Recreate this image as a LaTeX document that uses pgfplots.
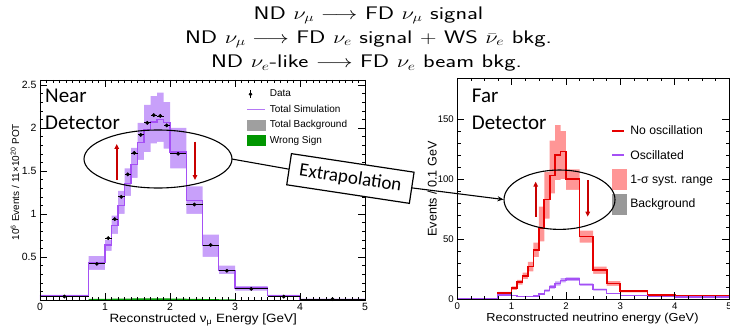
\documentclass[border=0pt]{standalone}
\usepackage{fontspec}
\setmainfont{Liberation Sans}
\newfontfamily\carlito{Carlito}
\usepackage{graphicx}
\usepackage{pgfplots}
\usepackage{pgfplotstable}
\pgfplotsset{compat=1.18}
\usetikzlibrary{arrows.meta}

\definecolor{simpurple}{RGB}{165,80,245}
\definecolor{bandpurple}{RGB}{200,160,250}
\definecolor{legpurple}{RGB}{180,120,245}
\definecolor{rootred}{RGB}{230,0,0}
\definecolor{bandred}{RGB}{255,150,150}
\definecolor{arrowred}{RGB}{200,0,0}
\definecolor{wsgreen}{RGB}{0,150,0}

% Near detector histogram: bin left edges (last row = right edge)
\pgfplotstableread{
x    mc    lo     hi     ws
0    0.05  0.04   0.06   0
0.75 0.44  0.35   0.51   0.012
1.0  0.64  0.57   0.70   0.014
1.1  0.87  0.77   0.98   0.015
1.2  1.10  1.00   1.27   0.016
1.3  1.35  1.21   1.53   0.017
1.4  1.58  1.42   1.77   0.018
1.5  1.83  1.63   2.06   0.019
1.6  1.98  1.72   2.27   0.020
1.7  2.07  1.82   2.37   0.020
1.8  2.10  1.84   2.41   0.020
1.9  2.06  1.76   2.30   0.019
2.0  1.72  1.53   2.00   0.017
2.25 1.16  1.00   1.32   0.014
2.5  0.63  0.50   0.76   0.010
2.75 0.34  0.30   0.40   0.007
3.0  0.14  0.11   0.16   0
3.5  0.05  0.04   0.06   0
4.0  0.01  0.005  0.015  0
5.0  0.01  0.005  0.015  0
}\neartab

% Near detector data: bin centre, value, half bin width, stat error
\pgfplotstableread{
x     y     ex     ey
0.375 0.04  0.375  0.004
0.875 0.42  0.125  0.01
1.05  0.72  0.05   0.012
1.15  0.94  0.05   0.014
1.25  1.20  0.05   0.015
1.35  1.46  0.05   0.016
1.45  1.71  0.05   0.017
1.55  1.92  0.05   0.018
1.65  2.06  0.05   0.018
1.75  2.15  0.05   0.018
1.85  2.14  0.05   0.018
1.95  2.03  0.05   0.018
2.125 1.70  0.125  0.016
2.375 1.11  0.125  0.014
2.625 0.64  0.125  0.01
2.875 0.34  0.125  0.008
3.25  0.13  0.25   0.005
3.75  0.04  0.25   0.003
4.5   0.01  0.5    0.002
}\neardata

% Far detector histograms
\pgfplotstableread{
x    red   rlo   rhi   osc   olo   ohi
0    0     0     0     0     0     0
0.75 5     4     6     3.4   3.0   3.8
1.0  9     7.5   10.5  2.8   2.5   3.1
1.1  14    12    16    2.2   1.9   2.5
1.2  19    16.5  22    2.0   1.7   2.3
1.3  27    23    31    2.0   1.7   2.3
1.4  41    35    47    2.5   2.1   2.9
1.5  59    48    77    4.0   3.4   4.6
1.6  83    67    106   7.0   6.0   8.0
1.7  103   88    132   10.0  8.7   11.5
1.8  120   99    145   12.8  11.2  14.6
1.9  123   100   140   15.6  13.8  17.5
2.0  100   91    108   16.5  15.0  18.0
2.25 52    47    57    12.0  11.0  13.0
2.5  24    21    27    7.8   7.0   8.6
2.75 13    11    15    4.5   4.0   5.0
3.0  6.5   5.5   7.5   2.8   2.5   3.1
3.5  3.5   3     4     2.0   1.8   2.2
4.0  2.5   2     3     1.5   1.3   1.7
5.0  2.5   2     3     1.5   1.3   1.7
}\fartab

\pgfplotsset{
  rootstyle/.style={
    scale only axis, anchor=south west, axis on top,
    xmin=0, xmax=5, xtick={0,1,2,3,4,5},
    tick align=inside, xtick pos=both, ytick pos=both,
    xticklabel pos=lower, yticklabel pos=left,
    major tick length=7pt, minor tick length=3.5pt,
    tick style={black, line width=0.5pt},
    axis line style={line width=0.8pt},
    /pgf/number format/assume math mode=true,
    legend cell align=left,
  },
  nearline/.style={legend image code/.code={\path[draw=none,fill=none] (0pt,-7pt) rectangle (18pt,7pt);
    \draw[##1] (0pt,0pt) -- (18pt,0pt);}},
  nearbox/.style={legend image code/.code={\path[draw=none,fill=none] (0pt,-7pt) rectangle (18pt,7pt);
    \fill[##1] (0pt,-5pt) rectangle (18pt,5pt);}},
  farline/.style={legend image code/.code={\path[draw=none,fill=none] (0pt,-10pt) rectangle (14pt,10pt);
    \draw[##1] (0pt,0pt) -- (12pt,0pt);}},
  farbox/.style={legend image code/.code={\path[draw=none,fill=none] (0pt,-10pt) rectangle (14pt,10pt);
    \fill[##1] (0pt,-10pt) rectangle (14pt,10pt);}},
}
\newcommand{\ttl}[1]{\scalebox{1.32}[1]{#1}}

\begin{document}
\begin{tikzpicture}
\useasboundingbox (0pt,0pt) rectangle (730pt,327pt);

% ---------------- Title ----------------
\node[anchor=base, inner sep=0pt, font=\sffamily\fontsize{18.2}{20}\selectfont] at (368.5pt,307.7pt)
  {\ttl{ND $\nu_\mu \longrightarrow$ FD $\nu_\mu$ signal}};
\node[anchor=base, inner sep=0pt, font=\sffamily\fontsize{18.2}{20}\selectfont] at (368.5pt,283.7pt)
  {\ttl{ND $\nu_\mu \longrightarrow$ FD $\nu_e$ signal $+$ WS $\bar{\nu}_e$ bkg.}};
\node[anchor=base, inner sep=0pt, font=\sffamily\fontsize{18.2}{20}\selectfont] at (366.5pt,259.3pt)
  {\ttl{ND $\nu_e$-like $\longrightarrow$ FD $\nu_e$ beam bkg.}};

% ---------------- Near detector ----------------
\begin{axis}[rootstyle,
  at={(40pt,27pt)}, width=325pt, height=220pt,
  ymin=0, ymax=2.558,
  minor x tick num=9,
  ytick={0.5,1,1.5,2,2.5},
  minor ytick={0.1,0.2,0.3,0.4,0.6,0.7,0.8,0.9,1.1,1.2,1.3,1.4,1.6,1.7,1.8,1.9,2.1,2.2,2.3,2.4},
  ticklabel style={font=\fontsize{10.5}{11}\selectfont},
  xlabel={\scalebox{1.12}[1]{Reconstructed ν\textsubscript{μ} Energy [GeV]}},
  xlabel style={font=\fontsize{12}{13}\selectfont, at={(axis description cs:0.502,-0.1045)}, anchor=base},
  ylabel={10\textsuperscript{6} Events / 11×10\textsuperscript{20} POT},
  ylabel style={font=\fontsize{10}{11}\selectfont, at={(axis description cs:-0.077,0.536)}, anchor=center},
  legend style={at={(0.634,0.968)}, anchor=north west, draw=none, fill=none,
    font=\fontsize{10}{11}\selectfont, row sep=1.3pt, column sep=3pt, inner sep=0pt,
    nodes={inner sep=1pt}},
]
% systematic band: upper edge filled, lower edge cleared
\addplot[fill=bandpurple, draw=none, const plot, forget plot] table[x=x,y=hi]{\neartab} \closedcycle;
\addplot[fill=white, draw=none, const plot, forget plot] table[x=x,y=lo]{\neartab} \closedcycle;
\addplot[draw=none, fill=wsgreen, const plot, forget plot] table[x=x,y=ws]{\neartab} \closedcycle;
\addplot[color=simpurple, line width=1.2pt, const plot, forget plot] table[x=x,y=mc]{\neartab};
\addplot[black, only marks, mark=*, mark size=1.7pt, forget plot,
  error bars/.cd, x dir=both, x explicit, y dir=both, y explicit,
  error mark=none, error bar style={line width=0.8pt, black}]
  table[x=x, y=y, x error=ex, y error=ey]{\neardata};

\addlegendimage{legend image code/.code={\path[draw=none,fill=none] (0pt,-7pt) rectangle (18pt,7pt);
  \draw[black, line width=0.8pt] (3.5pt,-4pt) -- (3.5pt,4pt); \fill[black] (3.5pt,0pt) circle (1.6pt);}}
\addlegendentry{Data}
\addlegendimage{color=legpurple, line width=1.6pt, nearline}
\addlegendentry{Total Simulation}
\addlegendimage{color=gray!75, nearbox}
\addlegendentry{Total Background}
\addlegendimage{color=wsgreen, nearbox}
\addlegendentry{Wrong Sign}
\end{axis}

% ---------------- Far detector ----------------
\begin{axis}[rootstyle,
  at={(457.3pt,28pt)}, width=271.7pt, height=221pt,
  ymin=0, ymax=184.2,
  minor x tick num=3,
  ytick={0,50,100,150}, minor y tick num=4,
  ticklabel style={font=\fontsize{9.6}{10}\selectfont},
  xlabel={\scalebox{1.1}[1]{Reconstructed neutrino energy (GeV)}},
  xlabel style={font=\fontsize{11.6}{12}\selectfont, at={(axis description cs:0.4976,-0.1027)}, anchor=base},
  ylabel={Events / 0.1 GeV},
  ylabel style={font=\fontsize{12.6}{13}\selectfont, at={(axis description cs:-0.093,0.498)}, anchor=center},
  legend style={at={(0.5657,0.805)}, anchor=north west, draw=none, fill=none,
    font=\fontsize{12.2}{13}\selectfont, row sep=4.1pt, column sep=3pt, inner sep=0pt,
    nodes={inner sep=1pt}},
]
\addplot[fill=bandred, draw=none, const plot, forget plot] table[x=x,y=rhi]{\fartab} \closedcycle;
\addplot[fill=white, draw=none, const plot, forget plot] table[x=x,y=rlo]{\fartab} \closedcycle;
\addplot[fill=bandpurple, draw=none, const plot, forget plot] table[x=x,y=ohi]{\fartab} \closedcycle;
\addplot[fill=white, draw=none, const plot, forget plot] table[x=x,y=olo]{\fartab} \closedcycle;
\addplot[color=rootred, line width=1.7pt, const plot, forget plot] table[x=x,y=red]{\fartab};
\addplot[color=simpurple, line width=1.5pt, const plot, forget plot] table[x=x,y=osc]{\fartab};

\addlegendimage{color=rootred, line width=1.7pt, farline}
\addlegendentry{No oscillation}
\addlegendimage{color=simpurple, line width=1.8pt, farline}
\addlegendentry{Oscillated}
\addlegendimage{color=bandred, farbox}
\addlegendentry{1-σ syst. range}
\addlegendimage{color=gray!80, farbox}
\addlegendentry{Background}
\end{axis}

% ---------------- Annotations ----------------
\node[anchor=base west, inner sep=0pt, font=\carlito\fontsize{21}{25}\selectfont] at (45pt,224pt) {Near};
\node[anchor=base west, inner sep=0pt, font=\carlito\fontsize{21}{25}\selectfont] at (45pt,197pt) {Detector};
\node[anchor=base west, inner sep=0pt, font=\carlito\fontsize{21}{25}\selectfont] at (471.7pt,224pt) {Far};
\node[anchor=base west, inner sep=0pt, font=\carlito\fontsize{21}{25}\selectfont] at (471.7pt,197.5pt) {Detector};

\draw[line width=1.1pt] (158pt,168pt) ellipse [x radius=74pt, y radius=29pt];
\draw[line width=1.1pt] (559.5pt,127.3pt) ellipse [x radius=55.5pt, y radius=29.7pt];

\draw[arrowred, line width=1.6pt, -{Triangle[length=5pt,width=4.5pt]}] (116.7pt,147pt) -- (116.7pt,183pt);
\draw[arrowred, line width=1.6pt, -{Triangle[length=5pt,width=4.5pt]}] (195pt,185.3pt) -- (195pt,147pt);
\draw[arrowred, line width=1.6pt, -{Triangle[length=5pt,width=4.5pt]}] (535.7pt,110.3pt) -- (535.7pt,145.3pt);
\draw[arrowred, line width=1.6pt, -{Triangle[length=5pt,width=4.5pt]}] (587.7pt,147pt) -- (587.7pt,110.3pt);

\draw[line width=1.1pt] (231.7pt,168pt) -- (289.2pt,157.8pt);
\draw[line width=1.1pt, -{Stealth[length=6pt,width=5pt]}] (412pt,139.1pt) -- (503.5pt,127.5pt);
\node[draw, fill=white, line width=1.2pt, rotate=-8.6, minimum width=124pt, minimum height=31.5pt,
  inner sep=0pt, font=\carlito\fontsize{19}{20}\selectfont] at (350.4pt,148.5pt) {Extrapolation};
\end{tikzpicture}
\end{document}
